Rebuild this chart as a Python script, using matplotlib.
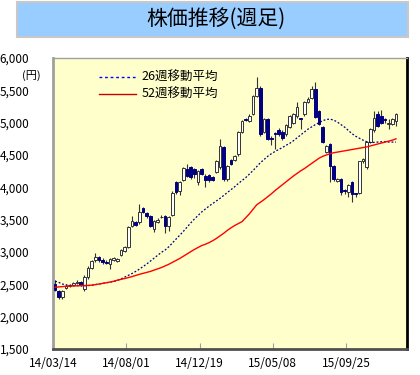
import matplotlib.pyplot as plt
from matplotlib.patches import Rectangle
from matplotlib.lines import Line2D

plt.rcParams['font.family'] = ['Noto Sans CJK JP', 'DejaVu Sans']

# Weekly candles, 14/03/14 onwards
opens = [2500, 2400, 2300, 2440, 2480, 2490, 2520, 2530, 2430, 2610,
         2760, 2870, 2920, 2880, 2850, 2820, 2880, 2860, 2960, 3020,
         3080, 3400, 3460, 3460, 3680, 3600, 3560, 3350, 3470, 3540,
         3560, 3400, 3580, 4080, 3940, 4120, 4290, 4310, 4280, 4080,
         4280, 4170, 4190, 4160, 4235, 4310, 4620, 4130, 4420, 4420,
         4510, 4860, 5060, 5030, 5130, 5420, 5540, 4860, 5050, 4770,
         4840, 4890, 4860, 4820, 4930, 5000, 5100, 5070, 5130, 5320,
         5380, 5520, 5180, 4930, 4550, 4670, 4330, 4100, 4130, 3960,
         3930, 4080, 3910, 3920, 4400, 4310, 4700, 4880, 5130, 5100,
         5060, 4980, 4980, 5020]
highs = [2570, 2420, 2420, 2500, 2510, 2540, 2560, 2550, 2640, 2780,
         2880, 2980, 2940, 2900, 2870, 2900, 2920, 2910, 3050, 3100,
         3400, 3560, 3480, 3740, 3700, 3620, 3570, 3490, 3520, 3570,
         3570, 3560, 3940, 4100, 4100, 4320, 4360, 4330, 4300, 4270,
         4300, 4200, 4210, 4180, 4420, 4750, 4640, 4340, 4440, 4500,
         4870, 5040, 5080, 5130, 5430, 5700, 5560, 5070, 5070, 4790,
         4860, 4920, 4880, 4980, 5120, 5150, 5320, 5080, 5340, 5390,
         5560, 5630, 5200, 4950, 4660, 4690, 4340, 4150, 4140, 3970,
         4050, 4100, 3920, 4410, 4460, 4720, 4920, 5180, 5180, 5190,
         5080, 5060, 5070, 5150]
lows = [2400, 2280, 2280, 2430, 2460, 2470, 2500, 2470, 2390, 2590,
        2740, 2850, 2850, 2820, 2810, 2740, 2860, 2850, 2940, 3000,
        3060, 3380, 3400, 3440, 3600, 3520, 3380, 3310, 3450, 3520,
        3300, 3330, 3560, 3900, 3880, 4100, 4160, 4130, 4150, 4030,
        4190, 4000, 4090, 4100, 4220, 4290, 4100, 4100, 4340, 4400,
        4490, 4840, 5020, 5010, 5120, 5400, 4800, 4840, 4730, 4650,
        4600, 4800, 4730, 4800, 4910, 4980, 5080, 4900, 5110, 5300,
        5360, 5070, 4960, 4680, 4530, 4080, 4100, 4090, 3880, 3900,
        3850, 3770, 3850, 3900, 4380, 4290, 4680, 4860, 4930, 4980,
        5000, 4900, 4960, 4950]
closes = [2420, 2300, 2400, 2480, 2490, 2520, 2540, 2490, 2620, 2760,
          2860, 2930, 2880, 2840, 2830, 2890, 2900, 2890, 3030, 3080,
          3390, 3480, 3420, 3620, 3620, 3560, 3400, 3480, 3500, 3540,
          3400, 3540, 3920, 3930, 4090, 4300, 4180, 4160, 4200, 4250,
          4210, 4110, 4110, 4120, 4400, 4640, 4130, 4330, 4360, 4480,
          4850, 5020, 5040, 5110, 5410, 5530, 4830, 5050, 4750, 4740,
          4820, 4820, 4760, 4960, 5100, 5130, 5240, 5050, 5320, 5370,
          5520, 5090, 4980, 4700, 4640, 4330, 4130, 4130, 3930, 3940,
          4030, 3900, 3890, 4400, 4440, 4700, 4900, 5080, 4950, 5000,
          5040, 4990, 5050, 5130]

# Moving averages
ma26 = [2550, 2530, 2505, 2490, 2485, 2482, 2480, 2480, 2478, 2480,
        2488, 2497, 2506, 2515, 2525, 2535, 2545, 2560, 2585, 2612,
        2640, 2668, 2700, 2735, 2775, 2815, 2860, 2905, 2950, 2995,
        3030, 3080, 3140, 3200, 3260, 3320, 3385, 3450, 3510, 3565,
        3620, 3665, 3710, 3750, 3790, 3830, 3875, 3920, 3965, 4010,
        4060, 4105, 4150, 4205, 4260, 4320, 4380, 4430, 4480, 4520,
        4555, 4585, 4615, 4650, 4680, 4720, 4765, 4810, 4855, 4900,
        4935, 4970, 5000, 5030, 5050, 5055, 5040, 5010, 4970, 4930,
        4880, 4830, 4790, 4760, 4730, 4705, 4695, 4695, 4700, 4705,
        4705, 4700, 4700, 4700]
ma52 = [2455, 2460, 2465, 2470, 2472, 2475, 2477, 2480, 2482, 2484,
        2487, 2495, 2505, 2515, 2525, 2535, 2548, 2565, 2578, 2590,
        2605, 2620, 2638, 2655, 2670, 2685, 2700, 2720, 2740, 2760,
        2785, 2810, 2840, 2870, 2900, 2935, 2970, 3005, 3040, 3070,
        3100, 3120, 3145, 3175, 3210, 3250, 3290, 3335, 3375, 3410,
        3440, 3470, 3530, 3590, 3660, 3730, 3770, 3810, 3855, 3900,
        3950, 3995, 4040, 4085, 4130, 4175, 4215, 4255, 4290, 4330,
        4370, 4410, 4450, 4480, 4500, 4520, 4535, 4545, 4555, 4565,
        4575, 4585, 4595, 4605, 4615, 4625, 4640, 4655, 4670, 4685,
        4700, 4715, 4730, 4750]

tick_weeks = [0, 20, 40, 60, 80]
tick_labels = ["14/03/14", "14/08/01", "14/12/19", "15/05/08", "15/09/25"]
y_ticks = [1500, 2000, 2500, 3000, 3500, 4000, 4500, 5000, 5500, 6000]

UP_EDGE = "#333333"
DOWN_COLOR = "#000080"

fig = plt.figure(figsize=(4.2, 3.75), dpi=100)

# Title banner
fig.patches.append(Rectangle((0.040, 0.901), 0.931, 0.093, transform=fig.transFigure,
                             facecolor="#99CCFF", edgecolor="#C8C8C8", linewidth=1.5))
fig.text(0.515, 0.947, "株価推移(週足)", ha="center", va="center", fontsize=15)

ax = fig.add_axes([0.126, 0.0693, 0.843, 0.776])
ax.set_facecolor("#FFFFCC")

weeks = list(range(len(closes)))

# Wicks
ax.vlines(weeks, lows, highs, color=UP_EDGE, linewidth=0.8, zorder=2)

# Bodies
bottoms = [min(o, c) for o, c in zip(opens, closes)]
heights = [abs(c - o) for o, c in zip(opens, closes)]
faces = ["white" if c >= o else DOWN_COLOR for o, c in zip(opens, closes)]
edges = [UP_EDGE if c >= o else DOWN_COLOR for o, c in zip(opens, closes)]
ax.bar(weeks, heights, bottom=bottoms, width=0.72, color=faces, edgecolor=edges,
       linewidth=0.7, zorder=3)

# Moving averages
ax.plot(weeks, ma26, color="#000080", linestyle=(0, (1.5, 1.5)), linewidth=0.9, zorder=4)
ax.plot(weeks, ma52, color="#FF0000", linewidth=1.0, zorder=4)

handles = [Line2D([], [], color="#0000FF", linestyle=(0, (2, 2)), linewidth=1.0),
           Line2D([], [], color="#CC0000", linewidth=1.0)]
ax.legend(handles, ["26週移動平均", "52週移動平均"], loc="upper left",
          bbox_to_anchor=(0.105, 0.985), frameon=False, fontsize=9,
          handlelength=3.0, handletextpad=0.4, labelspacing=0.3, borderpad=0.2)

ax.set_xlim(-0.6, 96.0)
ax.set_ylim(1500, 6000)

ax.set_yticks(y_ticks)
ax.set_yticklabels([f"{v:,}" for v in y_ticks], fontsize=8.5)
ax.tick_params(axis="y", length=0, pad=17)

ax.set_xticks([w - 0.6 for w in tick_weeks])
ax.set_xticklabels(tick_labels, fontsize=8.5)
ax.tick_params(axis="x", direction="in", length=4, color="#A0A0A0", pad=6)

ax.text(-0.06, 0.94, "(円)", transform=ax.transAxes, ha="center", va="center", fontsize=8)

ax.spines["left"].set_color("#A0A0A0")
ax.spines["left"].set_linewidth(2)
ax.spines["top"].set_color("#A0A0A0")
ax.spines["top"].set_linewidth(1)
ax.spines["right"].set_color("black")
ax.spines["right"].set_linewidth(2)
ax.spines["bottom"].set_color("#505050")
ax.spines["bottom"].set_linewidth(2)

fig.savefig("out.png", dpi=100)
